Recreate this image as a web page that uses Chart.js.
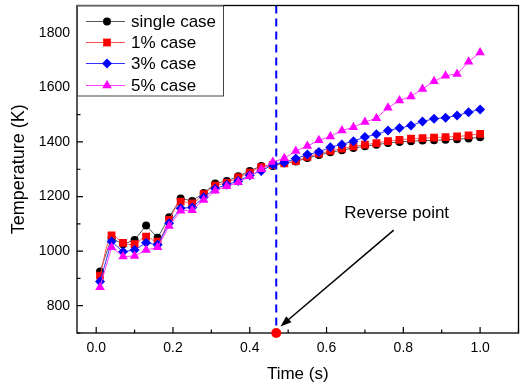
<!DOCTYPE html>
<html>
<head>
<meta charset="utf-8">
<script src="https://cdn.jsdelivr.net/npm/chart.js@4/dist/chart.umd.min.js"></script>
<style>
  html, body { margin: 0; padding: 0; background: #fff; }
  #wrap { width: 524px; height: 386px; }
</style>
</head>
<body>
<div id="wrap"><canvas id="chart" width="524" height="386"></canvas></div>
<script>
// --- datos ---
const times = [0.01, 0.04, 0.07, 0.10, 0.13, 0.16, 0.19, 0.22, 0.25, 0.28, 0.31, 0.34,
               0.37, 0.40, 0.43, 0.46, 0.49, 0.52, 0.55, 0.58, 0.61, 0.64, 0.67, 0.70,
               0.73, 0.76, 0.79, 0.82, 0.85, 0.88, 0.91, 0.94, 0.97, 1.00];

const singleCase = [925, 1048, 1025, 1041, 1094, 1049, 1124, 1193, 1184, 1213, 1248, 1257,
                    1274, 1294, 1312, 1312, 1322, 1328, 1341, 1352, 1362, 1370, 1378, 1384,
                    1390, 1396, 1400, 1403, 1405, 1406, 1408, 1410, 1413, 1417];
const case1 = [910, 1058, 1030, 1026, 1053, 1035, 1114, 1181, 1175, 1209, 1240, 1250,
               1270, 1288, 1308, 1315, 1322, 1330, 1345, 1357, 1367, 1376, 1384, 1390,
               1396, 1403, 1408, 1412, 1414, 1416, 1418, 1420, 1424, 1430];
const case3 = [889, 1035, 998, 1004, 1031, 1023, 1102, 1157, 1160, 1197, 1229, 1243,
               1257, 1278, 1294, 1317, 1325, 1339, 1354, 1363, 1381, 1391, 1403, 1418,
               1428, 1442, 1451, 1460, 1475, 1485, 1489, 1497, 1509, 1519];
const case5 = [868, 1014, 980, 982, 1004, 1014, 1092, 1148, 1150, 1187, 1221, 1238,
               1252, 1274, 1300, 1327, 1340, 1367, 1385, 1406, 1420, 1442, 1454, 1473,
               1487, 1525, 1552, 1567, 1594, 1622, 1643, 1649, 1694, 1728];

const seriesLabels = ['single case', '1% case', '3% case', '5% case'];
const xTicks = [0.0, 0.2, 0.4, 0.6, 0.8, 1.0];
const yTicks = [800, 1000, 1200, 1400, 1600, 1800];

// punto de inversión y anotación
const reverseTime = 0.469;
const reverseTemp = 700;
const labelPos = { x: 0.646, y: 1139 };
const arrowFrom = { x: 0.775, y: 1077 };
const arrowTo = { x: 0.480, y: 724 };

const FONT = '"Liberation Sans", Arial, sans-serif';

const toPoints = (arr) => times.map((t, i) => ({ x: t, y: arr[i] }));

const styles = [
    { line: '#555555', fill: '#000000', pointStyle: 'circle', radius: 4, tension: 0 },
    { line: '#ff5050', fill: '#ff0000', pointStyle: 'rect', radius: 5.5, tension: 0.35 },
    { line: '#3030ff', fill: '#0000ff', pointStyle: 'rectRot', radius: 5, tension: 0 },
    { line: '#ff40ff', fill: '#ff00ff', pointStyle: 'triangle', radius: 5.5, tension: 0 }
];
const seriesData = [singleCase, case1, case3, case5];

const datasets = seriesData.map((arr, i) => ({
    label: seriesLabels[i],
    data: toPoints(arr),
    borderColor: styles[i].line,
    borderWidth: 1,
    backgroundColor: styles[i].fill,
    pointBackgroundColor: styles[i].fill,
    pointBorderColor: styles[i].fill,
    pointBorderWidth: 0,
    pointStyle: styles[i].pointStyle,
    pointRadius: styles[i].radius,
    tension: styles[i].tension,
    order: 3 - i
}));

// --- plugin: marco, ticks hacia dentro, leyenda y anotación ---
const decorPlugin = {
    id: 'decor',
    afterDatasetsDraw(chart) {
        const { ctx, chartArea: a, scales: { x, y } } = chart;
        ctx.save();

        // línea vertical discontinua
        const vx = x.getPixelForValue(reverseTime);
        ctx.strokeStyle = '#0000ff';
        ctx.lineWidth = 2;
        ctx.setLineDash([8, 5]);
        ctx.beginPath();
        ctx.moveTo(vx, a.top);
        ctx.lineTo(vx, a.bottom);
        ctx.stroke();
        ctx.setLineDash([]);

        // marco
        ctx.strokeStyle = '#000';
        ctx.lineWidth = 1.3;
        ctx.strokeRect(a.left, a.top, a.right - a.left, a.bottom - a.top);

        // ticks hacia dentro
        ctx.lineWidth = 1.2;
        ctx.beginPath();
        for (let v = 0; v <= 1.1001; v += 0.1) {
            const px = x.getPixelForValue(v);
            const major = Math.round(v * 10) % 2 === 0;
            ctx.moveTo(px, a.bottom);
            ctx.lineTo(px, a.bottom - (major ? 6 : 3.5));
        }
        for (let v = 700; v <= 1900; v += 100) {
            const py = y.getPixelForValue(v);
            const major = v % 200 === 0;
            ctx.moveTo(a.left, py);
            ctx.lineTo(a.left + (major ? 6 : 3.5), py);
        }
        ctx.stroke();

        // punto rojo
        ctx.fillStyle = '#ff0000';
        ctx.beginPath();
        ctx.arc(vx, y.getPixelForValue(reverseTemp), 5, 0, Math.PI * 2);
        ctx.fill();

        // flecha
        const x1 = x.getPixelForValue(arrowFrom.x), y1 = y.getPixelForValue(arrowFrom.y);
        const x2 = x.getPixelForValue(arrowTo.x), y2 = y.getPixelForValue(arrowTo.y);
        const ang = Math.atan2(y2 - y1, x2 - x1);
        ctx.strokeStyle = '#000';
        ctx.lineWidth = 1.5;
        ctx.beginPath();
        ctx.moveTo(x1, y1);
        ctx.lineTo(x2 - 8 * Math.cos(ang), y2 - 8 * Math.sin(ang));
        ctx.stroke();
        ctx.fillStyle = '#000';
        ctx.beginPath();
        ctx.moveTo(x2, y2);
        ctx.lineTo(x2 - 11 * Math.cos(ang) + 4 * Math.sin(ang), y2 - 11 * Math.sin(ang) - 4 * Math.cos(ang));
        ctx.lineTo(x2 - 11 * Math.cos(ang) - 4 * Math.sin(ang), y2 - 11 * Math.sin(ang) + 4 * Math.cos(ang));
        ctx.closePath();
        ctx.fill();

        ctx.font = '17px ' + FONT;
        ctx.textAlign = 'left';
        ctx.textBaseline = 'middle';
        ctx.fillText('Reverse point', x.getPixelForValue(labelPos.x), y.getPixelForValue(labelPos.y));

        // leyenda
        const lx = a.left, ly = a.top;
        ctx.fillStyle = '#fff';
        ctx.fillRect(lx, ly, 146, 90);
        ctx.strokeStyle = '#444';
        ctx.lineWidth = 1;
        ctx.strokeRect(lx + 0.5, ly + 0.5, 146, 90);
        const rows = [16, 37, 58, 80];
        seriesLabels.forEach((lab, i) => {
            const ry = ly + rows[i];
            ctx.strokeStyle = styles[i].line;
            ctx.lineWidth = 1;
            ctx.beginPath();
            ctx.moveTo(lx + 9, ry);
            ctx.lineTo(lx + 48, ry);
            ctx.stroke();
            ctx.fillStyle = styles[i].fill;
            ctx.strokeStyle = styles[i].fill;
            Chart.helpers.drawPoint(ctx, { pointStyle: styles[i].pointStyle, radius: styles[i].radius, rotation: 0, borderWidth: 0 }, lx + 30, ry);
            ctx.fillStyle = '#000';
            ctx.font = '17px ' + FONT;
            ctx.textBaseline = 'middle';
            ctx.fillText(lab, lx + 54, ry + 1);
        });

        ctx.restore();
    }
};

new Chart(document.getElementById('chart'), {
    type: 'line',
    data: { datasets },
    options: {
        responsive: false,
        devicePixelRatio: 1,
        animation: false,
        layout: { padding: { top: 5, right: 3, left: 0, bottom: 0 } },
        plugins: { legend: { display: false }, tooltip: { enabled: false } },
        scales: {
            x: {
                type: 'linear',
                min: -0.05,
                max: 1.1,
                grid: { display: false, drawTicks: false },
                border: { display: false },
                afterBuildTicks: (scale) => { scale.ticks = xTicks.map(v => ({ value: v })); },
                afterFit: (scale) => {
                    scale.height = 53;
                    scale.paddingLeft = 0;
                    scale.paddingRight = 0;
                },
                ticks: {
                    padding: 7,
                    color: '#000',
                    font: { family: FONT, size: 14 },
                    callback: (v) => Number(v).toFixed(1)
                },
                title: {
                    display: true,
                    text: 'Time (s)',
                    color: '#000',
                    font: { family: FONT, size: 17 },
                    padding: { top: 0, bottom: 1 }
                }
            },
            y: {
                min: 700,
                max: 1900,
                grid: { display: false, drawTicks: false },
                border: { display: false },
                afterBuildTicks: (scale) => { scale.ticks = yTicks.map(v => ({ value: v })); },
                afterFit: (scale) => {
                    scale.width = 77;
                    scale.paddingTop = 0;
                    scale.paddingBottom = 0;
                },
                ticks: {
                    padding: 7,
                    color: '#000',
                    font: { family: FONT, size: 14 },
                    callback: (v) => String(v)
                },
                title: {
                    display: true,
                    text: 'Temperature (K)',
                    color: '#000',
                    font: { family: FONT, size: 18 },
                    padding: { top: 8, bottom: 0 }
                }
            }
        }
    },
    plugins: [decorPlugin]
});
</script>
</body>
</html>
